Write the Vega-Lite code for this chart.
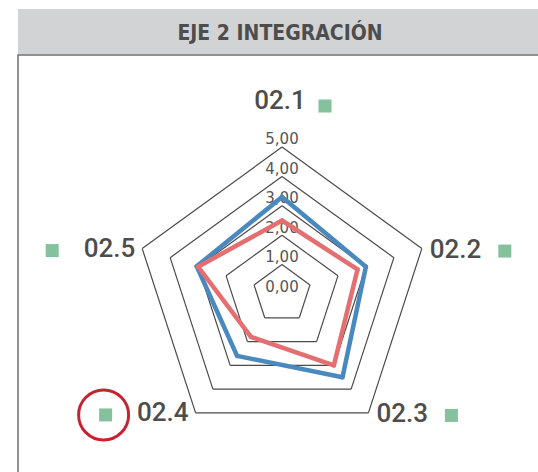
{
  "$schema": "https://vega.github.io/schema/vega-lite/v6.json",
  "padding": {"left": 17, "top": 9, "right": 0, "bottom": 0},
  "spacing": 0,
  "config": {"view": {"stroke": null}, "concat": {"spacing": 0}},
  "datasets": {
    "series": [
      {"series": "Serie 1", "axis": "02.1", "idx": 0, "value": 3.3},
      {"series": "Serie 1", "axis": "02.2", "idx": 1, "value": 3.0},
      {"series": "Serie 1", "axis": "02.3", "idx": 2, "value": 3.5},
      {"series": "Serie 1", "axis": "02.4", "idx": 3, "value": 2.6},
      {"series": "Serie 1", "axis": "02.5", "idx": 4, "value": 3.05},
      {"series": "Serie 2", "axis": "02.1", "idx": 0, "value": 2.5},
      {"series": "Serie 2", "axis": "02.2", "idx": 1, "value": 2.7},
      {"series": "Serie 2", "axis": "02.3", "idx": 2, "value": 3.0},
      {"series": "Serie 2", "axis": "02.4", "idx": 3, "value": 1.8},
      {"series": "Serie 2", "axis": "02.5", "idx": 4, "value": 3.0}
    ],
    "cats": [
      {"axis": "02.1", "idx": 0},
      {"axis": "02.2", "idx": 1},
      {"axis": "02.3", "idx": 2},
      {"axis": "02.4", "idx": 3},
      {"axis": "02.5", "idx": 4}
    ],
    "grid": [
      {"level": 1, "k": [0, 1, 2, 3, 4]},
      {"level": 2, "k": [0, 1, 2, 3, 4]},
      {"level": 3, "k": [0, 1, 2, 3, 4]},
      {"level": 4, "k": [0, 1, 2, 3, 4]},
      {"level": 5, "k": [0, 1, 2, 3, 4]}
    ],
    "ticks": [{"v": 0}, {"v": 1}, {"v": 2}, {"v": 3}, {"v": 4}, {"v": 5}]
  },
  "vconcat": [
    {
      "width": 521,
      "height": 45,
      "view": {"fill": "#d1d3d5", "stroke": null},
      "data": {"values": [{"title": "EJE 2 INTEGRACIÓN"}]},
      "mark": {
        "type": "text",
        "font": "'Liberation Sans Narrow', 'DejaVu Sans Condensed', 'Liberation Sans'",
        "fontSize": 21,
        "fontWeight": "bold",
        "color": "#4d4d4d",
        "baseline": "middle",
        "dx": 1.5,
        "dy": 2.5
      },
      "encoding": {"text": {"field": "title"}}
    },
    {
      "width": 521,
      "height": 418,
      "view": {"stroke": "#6e6e6e", "strokeWidth": 1.5, "fill": "white"},
      "layer": [
        {
          "data": {"name": "grid"},
          "transform": [
            {"flatten": ["k"]},
            {"calculate": "datum.level * sin(datum.k * 2 * PI / 5)", "as": "gx"},
            {"calculate": "datum.level * cos(datum.k * 2 * PI / 5)", "as": "gy"},
            {"calculate": "datum.level * sin((datum.k + 1) * 2 * PI / 5)", "as": "gx2"},
            {"calculate": "datum.level * cos((datum.k + 1) * 2 * PI / 5)", "as": "gy2"}
          ],
          "mark": {"type": "rule", "color": "#4a4a4a", "strokeWidth": 1.2},
          "encoding": {
            "x": {"field": "gx", "type": "quantitative", "scale": {"domain": [-8.98, 8.741], "nice": false, "zero": false}, "axis": null},
            "y": {"field": "gy", "type": "quantitative", "scale": {"domain": [-6.088, 8.129], "nice": false, "zero": false}, "axis": null},
            "x2": {"field": "gx2"},
            "y2": {"field": "gy2"}
          }
        },
        {
          "data": {"name": "ticks"},
          "transform": [
            {"calculate": "replace(format(datum.v, '.2f'), '.', ',')", "as": "lbl"}
          ],
          "mark": {"type": "text", "font": "DejaVu Sans", "fontSize": 15, "color": "#555555", "align": "center", "baseline": "alphabetic", "dy": -2.5},
          "encoding": {
            "x": {"datum": 0, "type": "quantitative", "scale": {"domain": [-8.98, 8.741], "nice": false, "zero": false}, "axis": null},
            "y": {"field": "v", "type": "quantitative", "scale": {"domain": [-6.088, 8.129], "nice": false, "zero": false}, "axis": null},
            "text": {"field": "lbl"}
          }
        },
        {
          "data": {"name": "series"},
          "transform": [
            {
              "window": [
                {"op": "lead", "field": "value", "as": "nextValue"},
                {"op": "first_value", "field": "value", "as": "firstValue"}
              ],
              "groupby": ["series"],
              "sort": [{"field": "idx", "order": "ascending"}],
              "frame": [null, null]
            },
            {"calculate": "isValid(datum.nextValue) ? datum.nextValue : datum.firstValue", "as": "nv"},
            {"calculate": "datum.value * sin(datum.idx * 2 * PI / 5)", "as": "px"},
            {"calculate": "datum.value * cos(datum.idx * 2 * PI / 5)", "as": "py"},
            {"calculate": "datum.nv * sin((datum.idx + 1) * 2 * PI / 5)", "as": "px2"},
            {"calculate": "datum.nv * cos((datum.idx + 1) * 2 * PI / 5)", "as": "py2"}
          ],
          "mark": {"type": "rule", "strokeWidth": 4.5, "strokeCap": "round"},
          "encoding": {
            "x": {"field": "px", "type": "quantitative", "scale": {"domain": [-8.98, 8.741], "nice": false, "zero": false}, "axis": null},
            "y": {"field": "py", "type": "quantitative", "scale": {"domain": [-6.088, 8.129], "nice": false, "zero": false}, "axis": null},
            "x2": {"field": "px2"},
            "y2": {"field": "py2"},
            "color": {"field": "series", "type": "nominal", "scale": {"domain": ["Serie 1", "Serie 2"], "range": ["#4a88c0", "#e46e70"]}, "legend": null},
            "order": {"field": "series", "sort": "ascending"}
          }
        },
        {
          "data": {"name": "cats"},
          "transform": [
            {"filter": "datum.idx == 0"},
            {"calculate": "5 * sin(datum.idx * 2 * PI / 5)", "as": "vx"},
            {"calculate": "5 * cos(datum.idx * 2 * PI / 5)", "as": "vy"}
          ],
          "layer": [
            {
              "mark": {"type": "text", "font": "Roboto", "fontWeight": 500, "fontSize": 26, "color": "#4d4d4d", "align": "center", "baseline": "middle", "xOffset": -2, "yOffset": -46}
            },
            {
              "mark": {"type": "point", "shape": "square", "filled": true, "size": 169, "color": "#84c19c", "opacity": 1, "xOffset": 43, "yOffset": -41}
            }
          ],
          "encoding": {
            "x": {"field": "vx", "type": "quantitative", "scale": {"domain": [-8.98, 8.741], "nice": false, "zero": false}, "axis": null},
            "y": {"field": "vy", "type": "quantitative", "scale": {"domain": [-6.088, 8.129], "nice": false, "zero": false}, "axis": null},
            "text": {"field": "axis"}
          }
        },
        {
          "data": {"name": "cats"},
          "transform": [
            {"filter": "datum.idx == 1 || datum.idx == 2"},
            {"calculate": "5 * sin(datum.idx * 2 * PI / 5)", "as": "vx"},
            {"calculate": "5 * cos(datum.idx * 2 * PI / 5)", "as": "vy"}
          ],
          "layer": [
            {
              "mark": {"type": "text", "font": "Roboto", "fontWeight": 500, "fontSize": 26, "color": "#4d4d4d", "align": "left", "baseline": "middle", "xOffset": 8, "yOffset": 1}
            },
            {
              "mark": {"type": "point", "shape": "square", "filled": true, "size": 169, "color": "#84c19c", "opacity": 1, "xOffset": 83, "yOffset": 2.5}
            }
          ],
          "encoding": {
            "x": {"field": "vx", "type": "quantitative", "scale": {"domain": [-8.98, 8.741], "nice": false, "zero": false}, "axis": null},
            "y": {"field": "vy", "type": "quantitative", "scale": {"domain": [-6.088, 8.129], "nice": false, "zero": false}, "axis": null},
            "text": {"field": "axis"}
          }
        },
        {
          "data": {"name": "cats"},
          "transform": [
            {"filter": "datum.idx == 3 || datum.idx == 4"},
            {"calculate": "5 * sin(datum.idx * 2 * PI / 5)", "as": "vx"},
            {"calculate": "5 * cos(datum.idx * 2 * PI / 5)", "as": "vy"}
          ],
          "layer": [
            {
              "mark": {"type": "text", "font": "Roboto", "fontWeight": 500, "fontSize": 26, "color": "#4d4d4d", "align": "right", "baseline": "middle", "xOffset": -7, "yOffset": 0.5}
            },
            {
              "mark": {"type": "point", "shape": "square", "filled": true, "size": 169, "color": "#84c19c", "opacity": 1, "xOffset": -90, "yOffset": 2}
            },
            {
              "transform": [{"filter": "datum.idx == 3"}],
              "mark": {"type": "point", "shape": "circle", "filled": false, "size": 2500, "stroke": "#c4232f", "strokeWidth": 3, "opacity": 1, "xOffset": -92, "yOffset": 2}
            }
          ],
          "encoding": {
            "x": {"field": "vx", "type": "quantitative", "scale": {"domain": [-8.98, 8.741], "nice": false, "zero": false}, "axis": null},
            "y": {"field": "vy", "type": "quantitative", "scale": {"domain": [-6.088, 8.129], "nice": false, "zero": false}, "axis": null},
            "text": {"field": "axis"}
          }
        }
      ]
    }
  ]
}
